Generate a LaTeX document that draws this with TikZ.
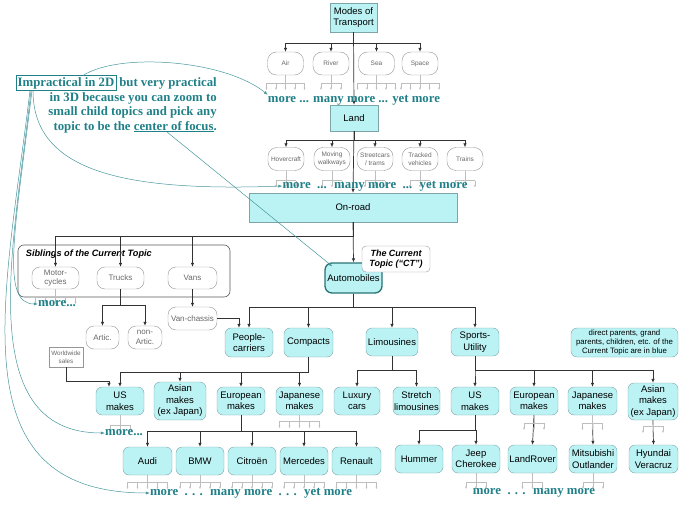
\documentclass[tikz,border=0pt]{standalone}
\usepackage{fontspec}
\setmainfont{Liberation Sans}
\newfontfamily\notefont{Liberation Serif}
\usetikzlibrary{arrows.meta,positioning}
\definecolor{topicfill}{RGB}{187,242,244}
\definecolor{topicline}{RGB}{125,165,168}
\definecolor{ctline}{RGB}{40,115,118}
\definecolor{notecol}{RGB}{32,128,136}
\definecolor{cuecol}{RGB}{70,150,156}
\definecolor{fadeline}{RGB}{150,150,150}
\definecolor{fadetext}{RGB}{105,105,105}
\definecolor{fantick}{RGB}{190,190,190}
\definecolor{connline}{RGB}{50,50,50}
\newcommand{\morefan}[4][8]{%
  \draw[fanline] (#2.south) -- ++(0,#1) coordinate (#2-fan);
  \draw[fanline] ([xshift=-#3pt]#2-fan) -- ([xshift=#3pt]#2-fan);
  \foreach \k in {0,...,#4}
    \draw[fanline,-{Latex[length=2.5pt,width=2pt]}] ([xshift={-#3pt+2*#3pt*\k/#4}]#2-fan) -- ++(0,7);
}

\begin{document}
\begin{tikzpicture}[x=1pt,y=-1pt,
            hubbox/.style={draw=topicline,fill=topicfill,align=center,inner sep=1pt,
                font=\fontsize{9.5}{11.5}\selectfont},
            topicbox/.style={hubbox,rounded corners=6pt,minimum width=48pt,minimum height=28pt},
            fadedbox/.style={draw=fadeline,fill=white,text=fadetext,align=center,inner sep=1pt,
                rounded corners=8pt,minimum width=47pt,minimum height=22pt,font=\fontsize{8}{9.5}\selectfont},
            smallbox/.style={fadedbox,rounded corners=9pt,minimum width=36pt,minimum height=23pt,
                font=\fontsize{6.5}{8}\selectfont},
            conn/.style={draw=connline,line width=0.7pt,-{Latex[length=4pt,width=3.5pt]}},
            fanline/.style={draw=fantick,line width=0.5pt},
            morelbl/.style={text=notecol,inner sep=0pt,font=\notefont\bfseries\fontsize{12.8}{14.5}\selectfont},
            cue/.style={draw=cuecol,line width=0.5pt,-{Latex[length=4pt,width=3pt]}}
            ]
            \useasboundingbox (0,0) rectangle (680,505);

            \node[hubbox,minimum width=47pt,minimum height=29pt] (modes) at (353.5,17.5) {Modes of\\Transport};
            \node[smallbox] (air) at (285.5,63.5) {Air};
            \node[smallbox] (river) at (331,63.5) {River};
            \node[smallbox] (sea) at (376.5,63.5) {Sea};
            \node[smallbox] (space) at (420,63.5) {Space};
            \node[hubbox,minimum width=48pt,minimum height=26pt] (land) at (354,118) {Land};
            \node[smallbox] (hover) at (286,159) {Hovercraft};
            \node[smallbox] (walk) at (332,159) {Moving\\walkways};
            \node[smallbox] (street) at (375,159) {Streetcars\\/ trams};
            \node[smallbox] (tracked) at (420,159) {Tracked\\vehicles};
            \node[smallbox] (trains) at (465,159) {Trains};
            \node[hubbox,minimum width=208pt,minimum height=29pt] (onroad) at (353,207.5) {On-road};

            \node[draw=black!65,line width=0.6pt,rounded corners=6pt,minimum width=212pt,minimum height=52pt] (sibframe) at (124,271) {};
            \node[anchor=north west,inner sep=0pt,font=\bfseries\itshape\fontsize{9.2}{11}\selectfont] (siblbl)
                at ([xshift=8pt,yshift=-5pt]sibframe.north west) {Siblings of the Current Topic};
            \node[fadedbox] (moto) at (55.5,278) {Motor-\\cycles};
            \node[fadedbox] (trucks) at (120.5,278) {Trucks};
            \node[fadedbox,minimum width=49pt] (vans) at (192.5,278) {Vans};
            \node[fadedbox,minimum width=33pt,minimum height=23pt] (artic) at (102.5,337.5) {Artic.};
            \node[fadedbox,minimum width=34pt,minimum height=23pt] (nonartic) at (145,337.5) {non-\\Artic.};
            \node[fadedbox,minimum width=49pt,minimum height=23pt] (vanch) at (192.5,318.5) {Van-chassis};

            \node[topicbox,draw=ctline,line width=1.3pt,rounded corners=7pt,minimum width=57pt,minimum height=30pt] (autom) at (353.5,278) {Automobiles};
            \node[draw=fadeline,fill=white,rounded corners=4pt,align=center,inner sep=1pt,minimum width=68pt,minimum height=26pt,
                font=\bfseries\itshape\fontsize{9}{10.5}\selectfont] (ctnote) at (396,259) {The Current\\Topic (“CT”)};

            \node[topicbox,minimum height=29pt] (people) at (249,342.5) {People-\\carriers};
            \node[topicbox,minimum width=49pt,minimum height=29pt] (compacts) at (308.5,342.5) {Compacts};
            \node[topicbox,minimum width=52pt] (limo) at (392,342) {Limousines};
            \node[topicbox] (sports) at (475,342) {Sports-\\Utility};
            \node[topicbox,minimum width=107pt,minimum height=29pt,font=\fontsize{7.8}{9.3}\selectfont] (legend) at (624.5,342.5)
                {direct parents, grand\\parents, children, etc. of the\\Current Topic are in blue};
            \node[draw=fadeline,fill=white,text=fadetext,align=center,inner sep=1pt,minimum width=34pt,minimum height=20pt,
                font=\fontsize{6.3}{8}\selectfont] (world) at (66,357) {Worldwide\\sales};

            \node[topicbox] (usA) at (120,401) {US\\makes};
            \node[topicbox,minimum width=52pt,minimum height=38pt] (asianA) at (180,401) {Asian\\makes\\(ex Japan)};
            \node[topicbox] (euroA) at (241,401) {European\\makes};
            \node[topicbox,minimum width=47pt] (japA) at (299.5,401) {Japanese\\makes};
            \node[topicbox,minimum width=46pt] (luxury) at (357,401) {Luxury\\cars};
            \node[topicbox,minimum width=47pt] (stretch) at (416.5,401) {Stretch\\limousines};
            \node[topicbox] (usB) at (475,401) {US\\makes};
            \node[topicbox] (euroB) at (534,401) {European\\makes};
            \node[topicbox,minimum width=49pt] (japB) at (592.5,401) {Japanese\\makes};
            \node[topicbox,minimum width=50pt,minimum height=37pt] (asianB) at (653,401.5) {Asian\\makes\\(ex Japan)};

            \node[topicbox,minimum width=49pt] (audi) at (147.5,461) {Audi};
            \node[topicbox] (bmw) at (200,461) {BMW};
            \node[topicbox] (citroen) at (252,461) {Citroën};
            \node[topicbox] (merc) at (304,461) {Mercedes};
            \node[topicbox,minimum width=49pt] (renault) at (356.5,461) {Renault};
            \node[topicbox] (hummer) at (419,459) {Hummer};
            \node[topicbox] (jeep) at (476,459) {Jeep\\Cherokee};
            \node[topicbox,minimum width=49pt] (landrover) at (532.5,459) {LandRover};
            \node[topicbox] (mitsu) at (593,459) {Mitsubishi\\Outlander};
            \node[topicbox,minimum width=49pt] (hyundai) at (653.5,459) {Hyundai\\Veracruz};

            \coordinate (busA) at (353,43);
            \coordinate (busB) at (354,140);
            \coordinate (busC) at (353,236);
            \coordinate (busD) at (120,305);
            \coordinate (busE) at (353,307);
            \coordinate (busF) at (308,372);
            \coordinate (busG) at (392,370);
            \coordinate (busH) at (241,431);
            \coordinate (busI) at (475,430);

            \draw[conn] (modes.south) -- (land.north);
            \foreach \c in {air,river,sea,space}
                \draw[conn] (modes.south) |- (\c.north |- busA) -- (\c.north);
            \draw[conn] (land.south) -- (onroad.north);
            \foreach \c in {hover,walk,street,tracked,trains}
                \draw[conn] (land.south) |- (\c.north |- busB) -- (\c.north);
            \draw[conn] (onroad.south) -- (autom.north);
            \foreach \c in {moto,trucks,vans}
                \draw[conn] (onroad.south) |- (\c.north |- busC) -- (\c.north);
            \foreach \c in {artic,nonartic}
                \draw[conn] (trucks.south) |- (\c.north |- busD) -- (\c.north);
            \draw[conn] (vans.south) -- (vanch.north);
            \draw[conn] (vanch.east) -| ([xshift=-10pt]people.north);
            \foreach \c in {people,compacts,limo,sports}
                \draw[conn] (autom.south) |- (\c.north |- busE) -- (\c.north);
            \foreach \c in {usA,asianA,euroA,japA}
                \draw[conn] (compacts.south) |- (\c.north |- busF) -- (\c.north);
            \draw[conn] (world.south) -- ++(0,14) -| ([xshift=-11pt]usA.north);
            \foreach \c in {luxury,stretch}
                \draw[conn] (limo.south) |- (\c.north |- busG) -- (\c.north);
            \foreach \c in {usB,euroB,japB,asianB}
                \draw[conn] (sports.south) |- (\c.north |- busG) -- (\c.north);
            \foreach \c in {audi,bmw,citroen,merc,renault}
                \draw[conn] (euroA.south) |- (\c.north |- busH) -- (\c.north);
            \foreach \c in {hummer,jeep}
                \draw[conn] (usB.south) |- (\c.north |- busI) -- (\c.north);
            \draw[conn] (euroB.south) -- (landrover.north);
            \draw[conn] (japB.south) -- (mitsu.north);
            \draw[conn] (asianB.south) -- (hyundai.north);

            \morefan{air}{19}{4}
            \morefan{river}{10}{2}
            \morefan{sea}{19}{4}
            \morefan{space}{19}{4}
            \morefan[10]{hover}{10}{2}
            \morefan[10]{walk}{10}{2}
            \morefan[10]{street}{10}{2}
            \morefan[10]{tracked}{10}{2}
            \morefan[10]{trains}{10}{2}
            \morefan{moto}{20}{4}
            \morefan[10]{usA}{10}{2}
            \morefan[6]{japA}{20}{4}
            \morefan[8]{euroB}{10}{2}
            \morefan[8]{japB}{10}{2}
            \morefan[6]{asianB}{10}{2}
            \foreach \c in {audi,bmw,citroen,merc,renault}
                \morefan[7]{\c}{20}{4};
            \foreach \c in {jeep,landrover,mitsu}
                \morefan[9]{\c}{10}{2};

            \node[morelbl] (moreA) at (354,100) {more ... many more ... yet more};
            \node[morelbl] (moreB) at (375,186) {more \ ... \ many more \ ... \ yet more};
            \node[morelbl] (moreC) at (57,304) {more...};
            \node[morelbl] (moreD) at (124,433) {more...};
            \node[morelbl] (moreE) at (251,493) {more \ . . . \ many more \ . . . \ yet more};
            \node[morelbl] (moreF) at (534,493) {more \ . . . \ many more};

            \node[morelbl,draw=notecol,line width=0.5pt,inner sep=1.5pt] (impr) at (66,83) {Impractical in 2D};
            \node[morelbl,right=3pt of impr] (rest1) {but very practical};
            \node[morelbl,align=right,anchor=north east] (anno) at ([yshift=-3pt]rest1.south east)
                {in 3D because you can zoom to\\small child topics and pick any\\topic to be the \underline{center of focus}.};
            \coordinate (focus) at (167,132);

            \draw[cue] ([xshift=17pt]impr.north) .. controls (120,52) and (225,60) .. (moreA.north west);
            \draw[cue] ([xshift=-33pt]impr.south) .. controls (33,170) and (120,192) .. (moreB.west);
            \draw[cue] ([xshift=-34pt]impr.south) .. controls (15,230) and (0,304) .. (moreC.west);
            \draw[cue] ([xshift=-35pt]impr.south) .. controls (15,240) and (-30,433) .. (moreD.west);
            \draw[cue] ([xshift=-36pt]impr.south) .. controls (5,300) and (-45,493) .. (moreE.west);
            \draw[cue] (focus) -- ([xshift=8pt,yshift=-4pt]autom.north west);
        \end{tikzpicture}
\end{document}
